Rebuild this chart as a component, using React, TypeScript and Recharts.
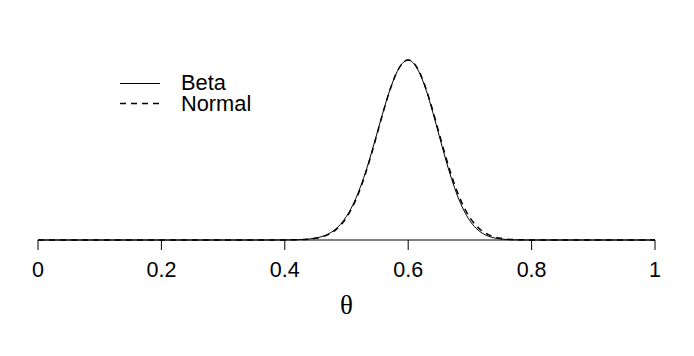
import React from "react";
import { LineChart, Line, XAxis, YAxis, Legend } from "recharts";

const theta = [
  0, 0.1, 0.2, 0.3, 0.35, 0.38,
  0.4, 0.41, 0.42, 0.43, 0.44, 0.45, 0.46, 0.47, 0.48, 0.49,
  0.5, 0.51, 0.52, 0.53, 0.54, 0.55, 0.56, 0.57, 0.58, 0.59,
  0.6, 0.61, 0.62, 0.63, 0.64, 0.65, 0.66, 0.67, 0.68, 0.69,
  0.7, 0.71, 0.72, 0.73, 0.74, 0.75, 0.76, 0.77, 0.78, 0.79,
  0.8, 0.82, 0.85, 0.9, 0.95, 1,
];

const betaDensity = [
  0, 0, 0, 0, 0, 0.0004,
  0.003, 0.006, 0.012, 0.024, 0.046, 0.088, 0.155, 0.265, 0.44, 0.7,
  1.07, 1.57, 2.21, 2.99, 3.9, 4.88, 5.86, 6.76, 7.49, 7.97,
  8.14, 7.95, 7.45, 6.7, 5.76, 4.74, 3.72, 2.79, 1.99, 1.35,
  0.87, 0.53, 0.31, 0.17, 0.09, 0.045, 0.021, 0.009, 0.004, 0.0015,
  0.0005, 0, 0, 0, 0, 0,
];

const normalDensity = [
  0, 0, 0, 0, 0, 0.0002,
  0.002, 0.0044, 0.0095, 0.0198, 0.039, 0.075, 0.137, 0.241, 0.406, 0.655,
  1.015, 1.506, 2.146, 2.934, 3.845, 4.838, 5.835, 6.749, 7.49, 7.97,
  8.14, 7.97, 7.49, 6.749, 5.835, 4.838, 3.845, 2.934, 2.146, 1.506,
  1.015, 0.655, 0.406, 0.241, 0.137, 0.075, 0.039, 0.0198, 0.0095, 0.0044,
  0.002, 0.0004, 0, 0, 0, 0,
];

const xTicks = [0, 0.2, 0.4, 0.6, 0.8, 1];
const seriesNames = ["Beta", "Normal"];

const data = theta.map((t, i) => ({
  t,
  beta: betaDensity[i],
  normal: normalDensity[i],
}));

const FONT = "'Liberation Sans', Arial, Helvetica, sans-serif";

const LegendContent = () => (
  <svg width={300} height={130} style={{ display: "block" }}>
    <line x1={120} x2={160} y1={83.5} y2={83.5} stroke="#000" strokeWidth={1} />
    <text x={181} y={90} fontSize={21.8} fontFamily={FONT} fill="#000">
      {seriesNames[0]}
    </text>
    <line
      x1={120}
      x2={160}
      y1={103.5}
      y2={103.5}
      stroke="#000"
      strokeWidth={1.5}
      strokeDasharray="6 5"
    />
    <text x={181} y={111} fontSize={21.8} fontFamily={FONT} fill="#000">
      {seriesNames[1]}
    </text>
  </svg>
);

const ThetaLabel = (props: any) => {
  const vb = props.viewBox || { x: 38, width: 617 };
  return (
    <text
      x={vb.x + vb.width / 2}
      y={314}
      textAnchor="middle"
      fontSize={27}
      fontFamily="'Liberation Serif', 'Times New Roman', serif"
      fill="#000"
    >
      θ
    </text>
  );
};

export default function App() {
  return (
    <div
      style={{
        position: "absolute",
        left: 0,
        top: 0,
        width: 694,
        height: 356,
        background: "#fff",
      }}
    >
      <LineChart
        width={694}
        height={356}
        data={data}
        margin={{ top: 41, right: 39, left: 38, bottom: 40 }}
      >
        <XAxis
          dataKey="t"
          type="number"
          domain={[0, 1]}
          ticks={xTicks}
          interval={0}
          height={76}
          tickSize={10}
          tickMargin={12}
          axisLine={{ stroke: "#000", strokeWidth: 1 }}
          tickLine={{ stroke: "#000", strokeWidth: 1 }}
          tick={{ fill: "#000", fontSize: 21.5, fontFamily: FONT }}
          label={<ThetaLabel />}
        />
        <YAxis hide domain={[0, 9]} type="number" />
        <Legend
          layout="vertical"
          align="center"
          verticalAlign="middle"
          wrapperStyle={{ left: 0, top: 0, width: 300, height: 130 }}
          content={<LegendContent />}
        />
        <Line
          type="monotone"
          dataKey="beta"
          name="Beta"
          stroke="#000"
          strokeWidth={1}
          dot={false}
          isAnimationActive={false}
        />
        <Line
          type="monotone"
          dataKey="normal"
          name="Normal"
          stroke="#000"
          strokeWidth={1.5}
          strokeDasharray="6 5"
          dot={false}
          isAnimationActive={false}
        />
      </LineChart>
    </div>
  );
}
